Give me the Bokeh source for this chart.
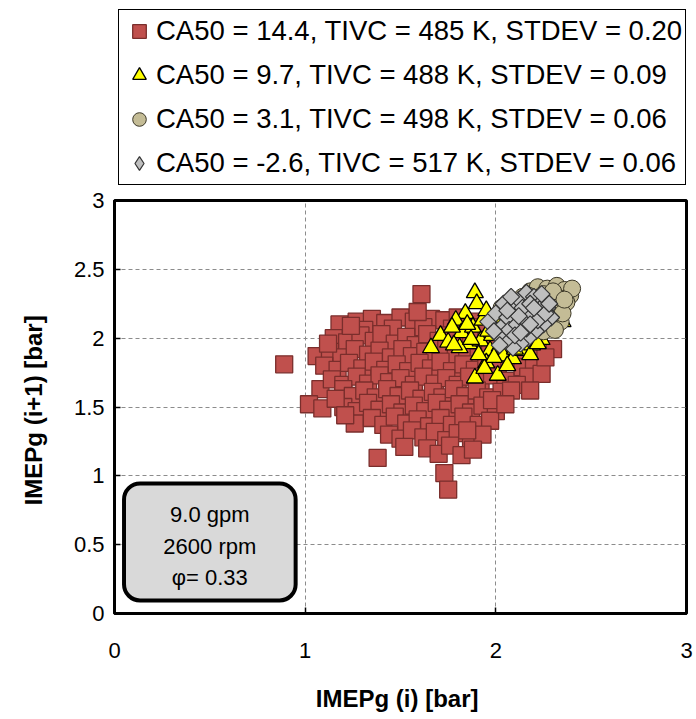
import math
from bokeh.plotting import figure
from bokeh.layouts import column
from bokeh.models import (FixedTicker, Legend, LegendItem,
                          BoxAnnotation, Label)
from bokeh.embed import file_html
from bokeh.resources import INLINE

# IMEPg of cycle i (x) versus cycle i+1 (y), in bar
ca50_144_x = [1.18, 1.27, 1.35, 1.42, 1.50, 1.57, 1.66, 1.73, 1.80, 1.88, 1.31, 1.46, 1.62, 1.77, 1.93, 1.61,
              1.15, 1.22, 1.29, 1.36, 1.40, 1.47, 1.53, 1.58, 1.64, 1.70, 1.76, 1.82, 1.87, 1.95, 2.00, 1.24,
              1.06, 1.13, 1.19, 1.26, 1.33, 1.39, 1.45, 1.51, 1.56, 1.63, 1.68, 1.74, 1.79, 1.85, 1.91, 1.97, 2.04, 2.12, 2.30, 2.22,
              0.89, 1.10, 1.17, 1.23, 1.30, 1.36, 1.42, 1.48, 1.54, 1.60, 1.66, 1.71, 1.77, 1.83, 1.89, 1.95, 2.01, 2.07, 2.14, 2.20,
              1.08, 1.14, 1.20, 1.27, 1.33, 1.39, 1.44, 1.50, 1.57, 1.62, 1.68, 1.74, 1.80, 1.86, 1.92, 1.98, 2.05, 2.17, 2.11,
              1.20, 1.25, 1.31, 1.37, 1.43, 1.49, 1.55, 1.61, 1.67, 1.72, 1.78, 1.84, 1.90, 1.96, 2.03, 2.08,
              1.02, 1.09, 1.20, 1.27, 1.33, 1.39, 1.45, 1.51, 1.57, 1.63, 1.69, 1.75, 1.81, 1.87, 1.93, 2.00,
              1.26, 1.35, 1.41, 1.47, 1.53, 1.59, 1.65, 1.71, 1.77, 1.83, 1.91, 1.97,
              1.44, 1.50, 1.56, 1.62, 1.68, 1.74, 1.80, 1.87, 1.93,
              1.38, 1.52, 1.64, 1.70, 1.76, 1.82, 1.88, 1.73, 1.75,
              1.16, 1.21, 1.12, 2.24, 2.18, 2.26, 1.98, 2.05, 1.59, 1.85]
ca50_144_y = [2.10, 2.12, 2.14, 2.11, 2.15, 2.12, 2.14, 2.13, 2.15, 2.12, 2.06, 2.07, 2.08, 2.07, 2.08, 2.32,
              2.00, 1.97, 2.02, 1.98, 2.03, 1.96, 2.01, 1.95, 2.03, 1.98, 2.02, 1.96, 2.02, 1.98, 2.03, 2.09,
              1.87, 1.90, 1.86, 1.92, 1.88, 1.91, 1.86, 1.92, 1.87, 1.90, 1.85, 1.92, 1.87, 1.91, 1.86, 1.92, 1.88, 1.90, 1.92, 1.93,
              1.81, 1.80, 1.77, 1.82, 1.78, 1.83, 1.77, 1.81, 1.76, 1.82, 1.78, 1.83, 1.76, 1.81, 1.77, 1.82, 1.78, 1.83, 1.79, 1.82,
              1.63, 1.70, 1.66, 1.72, 1.67, 1.73, 1.68, 1.71, 1.66, 1.72, 1.67, 1.71, 1.66, 1.72, 1.68, 1.73, 1.69, 1.72, 1.66,
              1.63, 1.58, 1.62, 1.57, 1.63, 1.58, 1.62, 1.56, 1.61, 1.57, 1.63, 1.58, 1.62, 1.57, 1.61, 1.62,
              1.52, 1.49, 1.50, 1.47, 1.53, 1.48, 1.52, 1.46, 1.51, 1.47, 1.53, 1.48, 1.52, 1.46, 1.51, 1.47,
              1.38, 1.42, 1.37, 1.43, 1.38, 1.41, 1.36, 1.42, 1.37, 1.43, 1.37, 1.40,
              1.30, 1.27, 1.33, 1.28, 1.32, 1.26, 1.31, 1.26, 1.30,
              1.13, 1.21, 1.20, 1.16, 1.22, 1.15, 1.19, 1.02, 0.90,
              1.56, 1.44, 1.96, 1.74, 1.62, 1.86, 1.55, 1.52, 2.19, 1.33]

ca50_97_x = [1.89, 1.84, 1.79, 1.71, 1.75, 1.82, 1.88, 1.93, 1.90, 1.95,
             1.86, 1.92, 1.98, 2.03, 1.97, 2.02, 2.07, 2.12, 1.89, 2.01,
             2.04, 2.09, 1.95, 1.99, 2.14, 2.19, 2.28, 2.13, 2.24, 2.31,
             1.94, 2.06, 1.81, 1.77, 2.16, 2.25, 2.35, 1.85, 2.10, 2.20,
             1.91, 2.05, 1.96, 2.08, 2.00, 1.78, 2.18, 2.22, 1.66, 1.87]
ca50_97_y = [2.33, 2.18, 2.13, 2.02, 1.97, 2.04, 2.08, 2.13, 2.25, 2.20,
             1.96, 1.98, 2.02, 2.08, 1.91, 1.94, 1.97, 2.02, 1.71, 1.73,
             1.87, 1.85, 1.82, 1.86, 1.91, 1.95, 2.06, 1.98, 1.99, 2.10,
             1.78, 1.80, 1.93, 2.08, 2.12, 2.16, 2.12, 2.10, 1.92, 2.05,
             1.88, 2.00, 2.05, 2.10, 2.15, 1.95, 1.88, 1.96, 1.93, 1.99]

ca50_31_x = [2.05, 2.10, 2.14, 2.18, 2.22, 2.27, 2.32, 2.36, 2.39, 2.37,
             2.33, 2.30, 2.34, 2.28, 2.25, 2.20, 2.15, 2.12, 2.18, 2.23,
             2.28, 2.32, 2.25, 2.20, 2.16, 2.08, 2.03, 2.27, 2.22, 2.35,
             2.40, 2.30, 2.13, 2.24, 2.31, 2.19, 2.26, 2.36, 2.10, 2.17]
ca50_31_y = [2.18, 2.25, 2.30, 2.34, 2.37, 2.36, 2.38, 2.35, 2.31, 2.26,
             2.22, 2.16, 2.12, 2.10, 2.05, 2.08, 2.12, 2.18, 2.22, 2.26,
             2.28, 2.30, 2.32, 2.29, 2.26, 2.14, 2.22, 2.20, 2.15, 2.18,
             2.36, 2.34, 2.27, 2.11, 2.06, 2.17, 2.24, 2.28, 2.20, 2.31]

ca50_m26_x = [1.96, 2.00, 2.03, 2.06, 2.09, 2.12, 2.16, 2.20, 2.24, 2.27,
              2.29, 2.25, 2.21, 2.17, 2.13, 2.09, 2.05, 2.01, 2.07, 2.11,
              2.15, 2.19, 2.23, 2.14, 2.18, 2.10, 2.04, 2.08, 2.22, 2.26,
              2.12, 2.16, 2.20, 1.99, 2.06, 2.18, 2.02, 2.24, 2.28, 2.13]
ca50_m26_y = [2.12, 2.18, 2.08, 2.15, 2.22, 2.28, 2.33, 2.30, 2.26, 2.22,
              2.15, 2.10, 2.05, 2.00, 1.96, 1.93, 1.98, 2.02, 2.06, 2.10,
              2.14, 2.18, 2.21, 2.22, 2.25, 2.02, 2.25, 2.30, 2.13, 2.18,
              2.16, 2.07, 2.22, 2.05, 2.20, 2.10, 1.95, 2.32, 2.25, 2.04]

legend_labels = ["CA50 = 14.4, TIVC = 485 K, STDEV = 0.20",
                 "CA50 = 9.7, TIVC = 488 K, STDEV = 0.09",
                 "CA50 = 3.1, TIVC = 498 K, STDEV = 0.06",
                 "CA50 = -2.6, TIVC = 517 K, STDEV = 0.06"]
x_ticks = [0, 1, 2, 3]
y_ticks = [0, 0.5, 1, 1.5, 2, 2.5, 3]
note_text = "9.0 gpm\n2600 rpm\nφ= 0.33"

FONT = "Liberation Sans"

styles = [
    dict(marker="square", size=17, fill_color="#C0504D", line_color="#7A2E2C", line_width=1.3),
    dict(marker="triangle", size=17, fill_color="#FFFF00", line_color="black", line_width=1.3),
    dict(marker="circle", size=17, fill_color="#C4BC96", line_color="#3A3626", line_width=1.0),
    dict(marker="square", size=12, angle=math.pi / 4, fill_color="#BFBFBF",
         line_color="#333333", line_width=1.2),
]
series = [(ca50_144_x, ca50_144_y), (ca50_97_x, ca50_97_y),
          (ca50_31_x, ca50_31_y), (ca50_m26_x, ca50_m26_y)]

# main scatter plot
p = figure(width=696, height=533, x_range=(0, 3), y_range=(0, 3),
           output_backend="svg", toolbar_location=None,
           min_border_left=114, min_border_right=10,
           min_border_top=14, min_border_bottom=106)
p.background_fill_color = "white"
p.border_fill_color = "white"
p.outline_line_color = "black"
p.outline_line_alpha = 1.0
p.outline_line_width = 3

for (xs, ys), st in zip(series, styles):
    p.scatter(xs, ys, **st)

for ax in (p.xaxis[0], p.yaxis[0]):
    ax.axis_line_color = "black"
    ax.axis_line_width = 3
    ax.major_tick_in = 6
    ax.major_tick_out = 0
    ax.major_tick_line_color = "black"
    ax.major_tick_line_width = 1.5
    ax.minor_tick_line_color = None
    ax.major_label_text_font = FONT
    ax.major_label_text_font_size = "22px"
    ax.major_label_text_color = "black"
    ax.axis_label_text_font = FONT
    ax.axis_label_text_font_size = "24px"
    ax.axis_label_text_font_style = "bold"
    ax.axis_label_text_color = "black"

p.xaxis.ticker = FixedTicker(ticks=x_ticks)
p.yaxis.ticker = FixedTicker(ticks=y_ticks)
p.xaxis.major_label_overrides = {t: f"{t:g}" for t in x_ticks}
p.yaxis.major_label_overrides = {t: f"{t:g}" for t in y_ticks}
p.xaxis.axis_label = "IMEPg (i)  [bar]"
p.yaxis.axis_label = "IMEPg (i+1)  [bar]"
p.xaxis.major_label_standoff = 29
p.xaxis.axis_label_standoff = 24
p.yaxis.major_label_standoff = 10
p.yaxis.axis_label_standoff = 24

p.grid.grid_line_color = "#8C8C8C"
p.grid.grid_line_dash = "4 3"
p.grid.grid_line_width = 1

# operating point box
p.add_layout(BoxAnnotation(left=0.05, right=0.95, bottom=0.095, top=0.945,
                           fill_color="#D9D9D9", fill_alpha=1.0,
                           line_color="black", line_alpha=1.0, line_width=4,
                           border_radius=16))
p.add_layout(Label(x=0.5, y=0.49, text=note_text, text_align="center",
                   text_baseline="middle", text_font=FONT, text_font_size="22px",
                   text_color="black", text_line_height=1.25))

# legend strip above the plot: the same series, kept out of its (empty) view,
# so the legend can reuse their glyph styles (legend glyphs are never rotated,
# so the diamond series uses the diamond marker here)
legend_styles = styles[:3] + [dict(marker="diamond", size=17, fill_color="#BFBFBF",
                                   line_color="#333333", line_width=1.2)]
lg = figure(width=696, height=186, x_range=(10, 11), y_range=(10, 11),
            output_backend="svg", toolbar_location=None,
            x_axis_type=None, y_axis_type=None,
            min_border_left=0, min_border_right=0,
            min_border_top=0, min_border_bottom=0)
lg.outline_line_color = None
lg.grid.visible = False
lg_renderers = [lg.scatter(xs, ys, **st) for (xs, ys), st in zip(series, legend_styles)]

legend = Legend(items=[LegendItem(label=lab, renderers=[r])
                       for lab, r in zip(legend_labels, lg_renderers)],
                location=(4, 1), orientation="vertical",
                label_text_font=FONT, label_text_font_size="27.5px",
                label_text_color="black",
                glyph_width=34, glyph_height=36, label_height=36,
                spacing=8, padding=3, label_standoff=0, margin=0,
                border_line_color="black", border_line_alpha=1.0,
                border_line_width=1.5, background_fill_color="white")
lg.add_layout(legend, "center")

open("out.html", "w").write(file_html(column(lg, p, spacing=0), INLINE))
